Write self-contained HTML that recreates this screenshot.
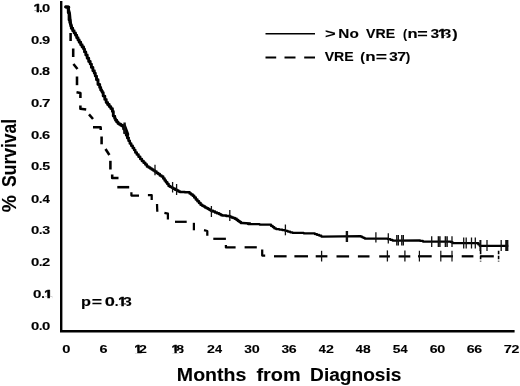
<!DOCTYPE html>
<html><head><meta charset="utf-8"><title>Survival</title>
<style>
html,body{margin:0;padding:0;background:#fff;}
svg{display:block;filter:blur(0.4px);}
text{font-family:"Liberation Sans",sans-serif;font-weight:bold;fill:#000;stroke:#000;stroke-width:0.12px;stroke-linejoin:round;}
</style></head><body>
<svg width="520" height="386" viewBox="0 0 520 386">
<rect x="0" y="0" width="520" height="386" fill="#fff"/>

<path d="M61.2,1 V331.2 H514.6" fill="none" stroke="#000" stroke-width="2.4" stroke-linejoin="miter"/>
<polyline points="65.6,6.9 68.3,6.9 68.3,12.8 69.1,12.8 69.1,20.0 70.0,20.0 70.0,22.5 70.5,22.5 70.5,24.3 70.9,24.3 70.9,26.0 71.3,26.0 71.3,28.3 72.7,28.3 72.7,30.7 74.1,30.7 74.1,33.0 75.5,33.0 75.5,35.3 76.7,35.3 76.7,37.7 78.0,37.7 78.0,40.0 79.2,40.0 79.2,42.3 80.7,42.3 80.7,44.7 82.1,44.7 82.1,47.0 83.6,47.0 83.6,49.1 84.5,49.1 84.5,51.9 85.8,51.9 85.8,55.0 87.2,55.0 87.2,58.3 88.7,58.3 88.7,61.5 90.2,61.5 90.2,64.1 91.4,64.1 91.4,67.4 92.9,67.4 92.9,70.8 94.3,70.8 94.3,73.2 95.3,73.2 95.3,76.1 96.5,76.1 96.5,79.8 98.0,79.8 98.0,84.5 99.7,84.5 99.7,87.5 100.7,87.5 100.7,90.0 101.6,90.0 101.6,91.2 102.3,91.2 102.3,92.6 103.2,92.6 103.2,96.1 104.8,96.1 104.8,99.4 106.2,99.4 106.2,102.5 107.6,102.5 107.6,104.5 109.2,104.5 109.2,106.6 110.8,106.6 110.8,108.6 112.4,108.6 112.4,111.5 113.3,111.5 113.3,116.1 114.7,116.1 114.7,118.6 115.5,118.6 115.5,120.2 116.7,120.2 116.7,121.9 118.0,121.9 118.0,123.5 119.2,123.5 119.2,124.3 120.7,124.3 120.7,125.2 122.1,125.2 122.1,126.0 123.6,126.0 123.6,129.1 124.9,129.1 124.9,132.7 126.3,132.7 126.3,135.3 127.4,135.3 127.4,138.0 128.5,138.0" fill="none" stroke="#000" stroke-width="2.9" stroke-linejoin="round" stroke-linecap="round"/>
<polyline points="128.5,138.0 128.5,140.8 129.8,140.8 129.8,143.5 131.2,143.5 131.2,145.8 132.7,145.8 132.7,148.1 134.1,148.1 134.1,150.1 135.3,150.1 135.3,152.4 136.8,152.4 136.8,154.6 138.5,154.6 138.5,156.7 140.2,156.7 140.2,158.9 141.9,158.9 141.9,161.0 143.6,161.0 143.6,162.8 145.3,162.8 145.3,164.6 146.9,164.6 146.9,166.4 148.6,166.4 148.6,167.4 150.2,167.4 150.2,168.4 151.7,168.4 151.7,169.4 153.3,169.4 153.3,170.4 154.8,170.4 154.8,171.6 156.5,171.6 156.5,172.9 158.2,172.9 158.2,174.1 159.8,174.1 159.8,175.4 161.5,175.4 161.5,176.6 163.2,176.6 163.2,178.5 164.6,178.5 164.6,180.4 165.9,180.4 165.9,182.2 167.3,182.2 167.3,184.1 168.6,184.1 168.6,186.0 170.0,186.0 170.0,186.7 171.2,186.7 171.2,187.3 172.3,187.3 172.3,188.0 173.5,188.0 173.5,188.8 175.1,188.8 175.1,189.7 176.8,189.7 176.8,190.5 178.4,190.5 178.4,191.4 180.0,191.4 180.0,191.9 184.8,191.9 184.8,192.3 189.6,192.3 189.6,193.5 191.1,193.5 191.1,194.6 192.7,194.6 192.7,195.8 194.2,195.8 194.2,197.6 195.8,197.6 195.8,199.4 197.4,199.4 197.4,201.2 199.0,201.2 199.0,203.0 200.6,203.0 200.6,204.8 202.2,204.8 202.2,205.7 203.7,205.7 203.7,206.5 205.1,206.5 205.1,207.4 206.6,207.4 206.6,208.3 208.1,208.3 208.1,209.1 209.5,209.1 209.5,210.0 211.0,210.0 211.0,210.8 213.0,210.8 213.0,211.6 215.0,211.6 215.0,212.4 217.0,212.4 217.0,213.2 219.0,213.2 219.0,213.9 220.2,213.9 220.2,214.5 221.3,214.5 221.3,215.2 222.5,215.2 222.5,215.6 226.2,215.6 226.2,216.0 229.8,216.0 229.8,216.7 231.5,216.7 231.5,217.4 233.2,217.4 233.2,218.1 234.9,218.1 234.9,218.8 236.6,218.8 236.6,219.9 238.1,219.9 238.1,220.9 239.5,220.9 239.5,222.0 240.9,222.0 240.9,223.1 242.4,223.1 250.0,223.5" fill="none" stroke="#000" stroke-width="2.5" stroke-linejoin="round" stroke-linecap="round"/>
<polyline points="248.0,223.4 248.0,224.0 259.5,224.0 259.5,224.6 271.0,224.6 271.0,225.9 272.7,225.9 272.7,227.1 274.3,227.1 274.3,228.4 276.0,228.4 276.0,229.0 279.1,229.0 279.1,229.6 282.3,229.6 282.3,230.2 285.4,230.2 285.4,230.9 287.7,230.9 287.7,231.6 290.1,231.6 290.1,232.3 292.4,232.3 292.4,232.8 303.6,232.8 303.6,233.3 314.8,233.3 314.8,234.1 317.0,234.1 317.0,234.9 319.2,234.9 319.2,235.7 321.3,235.7 321.3,236.5 323.5,236.5 360.8,236.2 360.8,236.7 362.1,236.7 362.1,237.3 363.4,237.3 363.4,237.8 364.7,237.8 364.7,238.5 388.0,238.5 388.0,239.2 390.3,239.2 390.3,239.8 392.5,239.8 392.5,240.5 394.8,240.5 420.0,240.3 420.0,240.9 422.9,240.9 422.9,241.5 425.8,241.5 451.0,241.5 451.0,242.2 452.5,242.2 452.5,243.0 454.0,243.0 478.3,243.0 478.3,244.4 479.8,244.4 479.8,245.9 481.2,245.9 508.3,245.9" fill="none" stroke="#000" stroke-width="2.25" stroke-linejoin="round" stroke-linecap="butt"/>
<line x1="124.2" y1="126" x2="127.4" y2="134.5" stroke="#000" stroke-width="3.8" stroke-linecap="round"/>
<line x1="66" y1="7.1" x2="68.8" y2="7.3" stroke="#000" stroke-width="3.0" stroke-linecap="round"/>
<polyline points="68,7.5 69.5,14 70.3,23 71.8,28" fill="none" stroke="#000" stroke-width="3.1" stroke-linecap="round" stroke-linejoin="round"/>
<line x1="124.6" y1="122.5" x2="124.6" y2="134" stroke="#111" stroke-width="2.4"/>
<line x1="155" y1="164.7" x2="155" y2="175.3" stroke="#111" stroke-width="1.3"/>
<line x1="172.6" y1="182" x2="172.6" y2="192.5" stroke="#111" stroke-width="1.3"/>
<line x1="176.6" y1="184" x2="176.6" y2="195" stroke="#111" stroke-width="1.3"/>
<line x1="211.4" y1="206" x2="211.4" y2="217" stroke="#111" stroke-width="1.3"/>
<line x1="229.8" y1="210" x2="229.8" y2="221" stroke="#111" stroke-width="1.3"/>
<line x1="285.4" y1="224.5" x2="285.4" y2="235.3" stroke="#111" stroke-width="1.3"/>
<line x1="346.9" y1="231" x2="346.9" y2="242" stroke="#111" stroke-width="2.4"/>
<line x1="375.9" y1="232.3" x2="375.9" y2="242.6" stroke="#111" stroke-width="1.3"/>
<line x1="388.3" y1="233.3" x2="388.3" y2="243.4" stroke="#111" stroke-width="1.3"/>
<line x1="396.8" y1="235" x2="396.8" y2="245.4" stroke="#111" stroke-width="1.4"/>
<line x1="398.3" y1="235" x2="398.3" y2="245.4" stroke="#111" stroke-width="1.4"/>
<line x1="401.8" y1="235" x2="401.8" y2="245.4" stroke="#111" stroke-width="1.4"/>
<line x1="403.3" y1="235" x2="403.3" y2="245.4" stroke="#111" stroke-width="1.4"/>
<line x1="431.7" y1="236.2" x2="431.7" y2="247" stroke="#111" stroke-width="1.3"/>
<line x1="438.4" y1="236.2" x2="438.4" y2="247" stroke="#111" stroke-width="1.5"/>
<line x1="439.9" y1="236.2" x2="439.9" y2="247" stroke="#111" stroke-width="1.5"/>
<line x1="445.4" y1="236.2" x2="445.4" y2="247" stroke="#111" stroke-width="1.5"/>
<line x1="447.1" y1="236.2" x2="447.1" y2="247" stroke="#111" stroke-width="1.5"/>
<line x1="452" y1="236.2" x2="452" y2="247" stroke="#111" stroke-width="1.3"/>
<line x1="463.7" y1="237.5" x2="463.7" y2="248.5" stroke="#111" stroke-width="1.3"/>
<line x1="466.2" y1="237.5" x2="466.2" y2="248.5" stroke="#111" stroke-width="1.3"/>
<line x1="471.5" y1="237.5" x2="471.5" y2="248.5" stroke="#111" stroke-width="1.3"/>
<line x1="475.3" y1="237.5" x2="475.3" y2="248.5" stroke="#111" stroke-width="1.3"/>
<line x1="480.4" y1="240" x2="480.4" y2="251" stroke="#111" stroke-width="2.0"/>
<line x1="487" y1="240" x2="487" y2="251" stroke="#111" stroke-width="1.3"/>
<line x1="501.2" y1="240" x2="501.2" y2="251" stroke="#111" stroke-width="1.3"/>
<line x1="506.8" y1="240" x2="506.8" y2="251" stroke="#111" stroke-width="3.2"/>
<polyline points="70.6,33.0 70.6,41.0" fill="none" stroke="#000" stroke-width="2.55" stroke-linejoin="round"/>
<polyline points="73.2,48.5 73.2,57.0" fill="none" stroke="#000" stroke-width="2.55" stroke-linejoin="round"/>
<polyline points="73.4,64.0 77.5,69.0" fill="none" stroke="#000" stroke-width="2.55" stroke-linejoin="round"/>
<polyline points="77.0,76.5 77.0,85.2" fill="none" stroke="#000" stroke-width="2.55" stroke-linejoin="round"/>
<polyline points="76.5,92.3 80.4,93.0 80.4,98.0" fill="none" stroke="#000" stroke-width="2.55" stroke-linejoin="round"/>
<polyline points="80.4,105.6 80.4,108.8 86.2,109.5" fill="none" stroke="#000" stroke-width="2.55" stroke-linejoin="round"/>
<polyline points="89.0,114.4 93.0,119.0" fill="none" stroke="#000" stroke-width="2.55" stroke-linejoin="round"/>
<polyline points="93.0,127.2 100.6,127.2 100.8,130.0" fill="none" stroke="#000" stroke-width="2.55" stroke-linejoin="round"/>
<polyline points="101.6,136.5 101.6,144.3" fill="none" stroke="#000" stroke-width="2.55" stroke-linejoin="round"/>
<polyline points="105.5,149.0 109.4,155.0" fill="none" stroke="#000" stroke-width="2.55" stroke-linejoin="round"/>
<polyline points="110.4,160.8 110.4,169.5" fill="none" stroke="#000" stroke-width="2.55" stroke-linejoin="round"/>
<polyline points="112.2,174.6 112.2,178.0 118.5,178.0" fill="none" stroke="#000" stroke-width="2.55" stroke-linejoin="round"/>
<polyline points="117.3,187.2 129.2,187.2" fill="none" stroke="#000" stroke-width="2.55" stroke-linejoin="round"/>
<polyline points="131.4,192.3 131.4,195.6 139.0,195.6" fill="none" stroke="#000" stroke-width="2.25" stroke-linejoin="round"/>
<polyline points="147.9,195.2 151.7,195.2 151.7,200.0" fill="none" stroke="#000" stroke-width="2.25" stroke-linejoin="round"/>
<polyline points="157.0,204.0 157.3,211.7" fill="none" stroke="#000" stroke-width="2.25" stroke-linejoin="round"/>
<polyline points="164.4,212.9 167.9,213.7 167.9,219.5" fill="none" stroke="#000" stroke-width="2.25" stroke-linejoin="round"/>
<polyline points="175.0,221.8 186.7,221.8" fill="none" stroke="#000" stroke-width="2.25" stroke-linejoin="round"/>
<polyline points="193.9,222.8 193.9,230.3" fill="none" stroke="#000" stroke-width="2.25" stroke-linejoin="round"/>
<polyline points="204.0,230.2 207.3,231.0 207.3,235.8" fill="none" stroke="#000" stroke-width="2.25" stroke-linejoin="round"/>
<polyline points="213.3,238.8 225.9,238.8" fill="none" stroke="#000" stroke-width="2.25" stroke-linejoin="round"/>
<polyline points="225.9,245.0 225.9,247.4 235.6,247.4" fill="none" stroke="#000" stroke-width="2.25" stroke-linejoin="round"/>
<polyline points="244.6,247.3 256.8,247.3" fill="none" stroke="#000" stroke-width="2.25" stroke-linejoin="round"/>
<polyline points="262.2,249.5 262.2,255.6 265.2,255.6" fill="none" stroke="#000" stroke-width="2.25" stroke-linejoin="round"/>
<polyline points="274.0,256.3 286.6,256.3" fill="none" stroke="#000" stroke-width="2.25" stroke-linejoin="round"/>
<polyline points="294.4,256.3 308.0,256.3" fill="none" stroke="#000" stroke-width="2.25" stroke-linejoin="round"/>
<polyline points="315.7,256.3 327.4,256.3" fill="none" stroke="#000" stroke-width="2.25" stroke-linejoin="round"/>
<polyline points="336.5,256.4 349.1,256.4" fill="none" stroke="#000" stroke-width="2.25" stroke-linejoin="round"/>
<polyline points="357.9,256.4 369.5,256.4" fill="none" stroke="#000" stroke-width="2.25" stroke-linejoin="round"/>
<polyline points="379.2,256.4 389.9,256.4" fill="none" stroke="#000" stroke-width="2.25" stroke-linejoin="round"/>
<polyline points="398.6,256.4 410.3,256.4" fill="none" stroke="#000" stroke-width="2.25" stroke-linejoin="round"/>
<polyline points="418.0,256.3 431.7,256.3" fill="none" stroke="#000" stroke-width="2.25" stroke-linejoin="round"/>
<polyline points="440.4,256.3 453.0,256.3" fill="none" stroke="#000" stroke-width="2.25" stroke-linejoin="round"/>
<polyline points="461.7,256.3 473.4,256.3" fill="none" stroke="#000" stroke-width="2.25" stroke-linejoin="round"/>
<polyline points="480.2,256.3 493.8,256.3" fill="none" stroke="#000" stroke-width="2.25" stroke-linejoin="round"/>
<line x1="321.6" y1="250.8" x2="321.6" y2="261.5" stroke="#111" stroke-width="1.3"/>
<line x1="387.4" y1="250.4" x2="387.4" y2="261.5" stroke="#111" stroke-width="1.3"/>
<line x1="404.9" y1="250.4" x2="404.9" y2="261.5" stroke="#111" stroke-width="1.3"/>
<line x1="440.8" y1="250.8" x2="440.8" y2="261.5" stroke="#111" stroke-width="1.2"/>
<line x1="452" y1="250.8" x2="452" y2="261.5" stroke="#111" stroke-width="1.2"/>
<line x1="419.4" y1="250.8" x2="419.4" y2="261.5" stroke="#111" stroke-width="1.2"/>
<line x1="480.6" y1="250.8" x2="480.6" y2="261.5" stroke="#000" stroke-width="1.6" stroke-dasharray="3.4,1.6"/>
<line x1="498.6" y1="250.8" x2="498.6" y2="261.5" stroke="#000" stroke-width="1.6" stroke-dasharray="3.4,1.6"/>
<line x1="265.5" y1="33.7" x2="315" y2="33.7" stroke="#000" stroke-width="1.6"/>
<line x1="265.5" y1="57.5" x2="276.2" y2="57.5" stroke="#000" stroke-width="2"/>
<line x1="284.5" y1="57.5" x2="295.5" y2="57.5" stroke="#000" stroke-width="2"/>
<line x1="304.2" y1="57.5" x2="315" y2="57.5" stroke="#000" stroke-width="2"/>
<clipPath id="ck1"><path clip-rule="evenodd" d="M-10,-10H600V500H-10ZM33.73,10.41H36.69V13.15H33.73ZM39.00,10.41H40.05V13.15H39.00Z"/></clipPath><text y="12.15" font-size="11.2" clip-path="url(#ck1)"><tspan x="33.65" textLength="7.73" lengthAdjust="spacingAndGlyphs" style="stroke-width:0.55px">1</tspan><tspan x="39.43" textLength="3.15" lengthAdjust="spacingAndGlyphs">.</tspan><tspan x="42.12" textLength="8.19" lengthAdjust="spacingAndGlyphs">0</tspan></text>
<text y="43.95" font-size="11.2"><tspan x="31.11" textLength="8.30" lengthAdjust="spacingAndGlyphs">0</tspan><tspan x="39.08" textLength="3.35" lengthAdjust="spacingAndGlyphs">.</tspan><tspan x="42.09" textLength="8.15" lengthAdjust="spacingAndGlyphs">9</tspan></text>
<text y="75.35" font-size="11.2"><tspan x="31.11" textLength="8.30" lengthAdjust="spacingAndGlyphs">0</tspan><tspan x="39.08" textLength="3.35" lengthAdjust="spacingAndGlyphs">.</tspan><tspan x="42.14" textLength="8.00" lengthAdjust="spacingAndGlyphs">8</tspan></text>
<text y="106.95" font-size="11.2"><tspan x="31.11" textLength="8.30" lengthAdjust="spacingAndGlyphs">0</tspan><tspan x="39.08" textLength="3.35" lengthAdjust="spacingAndGlyphs">.</tspan><tspan x="41.95" textLength="8.42" lengthAdjust="spacingAndGlyphs">7</tspan></text>
<text y="138.55" font-size="11.2"><tspan x="31.11" textLength="8.30" lengthAdjust="spacingAndGlyphs">0</tspan><tspan x="39.08" textLength="3.35" lengthAdjust="spacingAndGlyphs">.</tspan><tspan x="42.06" textLength="8.17" lengthAdjust="spacingAndGlyphs">6</tspan></text>
<text y="170.35" font-size="11.2"><tspan x="31.11" textLength="8.30" lengthAdjust="spacingAndGlyphs">0</tspan><tspan x="39.08" textLength="3.35" lengthAdjust="spacingAndGlyphs">.</tspan><tspan x="42.16" textLength="7.94" lengthAdjust="spacingAndGlyphs">5</tspan></text>
<text y="202.65" font-size="11.2"><tspan x="31.11" textLength="8.30" lengthAdjust="spacingAndGlyphs">0</tspan><tspan x="39.08" textLength="3.35" lengthAdjust="spacingAndGlyphs">.</tspan><tspan x="42.40" textLength="7.37" lengthAdjust="spacingAndGlyphs">4</tspan></text>
<text y="234.15" font-size="11.2"><tspan x="31.11" textLength="8.30" lengthAdjust="spacingAndGlyphs">0</tspan><tspan x="39.08" textLength="3.35" lengthAdjust="spacingAndGlyphs">.</tspan><tspan x="42.27" textLength="7.94" lengthAdjust="spacingAndGlyphs">3</tspan></text>
<text y="266.05" font-size="11.2"><tspan x="31.11" textLength="8.30" lengthAdjust="spacingAndGlyphs">0</tspan><tspan x="39.08" textLength="3.35" lengthAdjust="spacingAndGlyphs">.</tspan><tspan x="42.09" textLength="8.20" lengthAdjust="spacingAndGlyphs">2</tspan></text>
<clipPath id="ck2"><path clip-rule="evenodd" d="M-10,-10H600V500H-10ZM44.32,296.21H47.46V298.95H44.32ZM49.90,296.21H52.85V298.95H49.90Z"/></clipPath><text y="297.95" font-size="11.2" clip-path="url(#ck2)"><tspan x="33.10" textLength="8.42" lengthAdjust="spacingAndGlyphs">0</tspan><tspan x="41.33" textLength="3.54" lengthAdjust="spacingAndGlyphs">.</tspan><tspan x="44.18" textLength="8.28" lengthAdjust="spacingAndGlyphs" style="stroke-width:0.55px">1</tspan></text>
<text y="330.35" font-size="11.2"><tspan x="31.11" textLength="8.30" lengthAdjust="spacingAndGlyphs">0</tspan><tspan x="39.08" textLength="3.35" lengthAdjust="spacingAndGlyphs">.</tspan><tspan x="42.01" textLength="8.30" lengthAdjust="spacingAndGlyphs">0</tspan></text>
<text y="352.5" font-size="11.3"><tspan x="62.32" textLength="8.19" lengthAdjust="spacingAndGlyphs">0</tspan></text>
<text y="352.5" font-size="11.3"><tspan x="99.47" textLength="8.05" lengthAdjust="spacingAndGlyphs">6</tspan></text>
<clipPath id="ck3"><path clip-rule="evenodd" d="M-10,-10H600V500H-10ZM134.53,350.75H137.33V353.50H134.53Z"/></clipPath><text y="352.5" font-size="11.3" clip-path="url(#ck3)"><tspan x="134.52" textLength="7.17" lengthAdjust="spacingAndGlyphs" style="stroke-width:0.55px">1</tspan><tspan x="139.01" textLength="7.86" lengthAdjust="spacingAndGlyphs">2</tspan></text>
<clipPath id="ck4"><path clip-rule="evenodd" d="M-10,-10H600V500H-10ZM171.73,350.75H174.53V353.50H171.73ZM176.70,350.75H179.34V353.50H176.70Z"/></clipPath><text y="352.5" font-size="11.3" clip-path="url(#ck4)"><tspan x="171.72" textLength="7.17" lengthAdjust="spacingAndGlyphs" style="stroke-width:0.55px">1</tspan><tspan x="176.26" textLength="7.77" lengthAdjust="spacingAndGlyphs">8</tspan></text>
<text y="352.5" font-size="11.3"><tspan x="207.11" textLength="7.91" lengthAdjust="spacingAndGlyphs">2</tspan><tspan x="214.96" textLength="7.11" lengthAdjust="spacingAndGlyphs">4</tspan></text>
<text y="352.5" font-size="11.3"><tspan x="244.38" textLength="7.66" lengthAdjust="spacingAndGlyphs">3</tspan><tspan x="251.68" textLength="8.01" lengthAdjust="spacingAndGlyphs">0</tspan></text>
<text y="352.5" font-size="11.3"><tspan x="281.48" textLength="7.66" lengthAdjust="spacingAndGlyphs">3</tspan><tspan x="288.83" textLength="7.88" lengthAdjust="spacingAndGlyphs">6</tspan></text>
<text y="352.5" font-size="11.3"><tspan x="318.71" textLength="7.11" lengthAdjust="spacingAndGlyphs">4</tspan><tspan x="325.96" textLength="7.91" lengthAdjust="spacingAndGlyphs">2</tspan></text>
<text y="352.5" font-size="11.3"><tspan x="355.81" textLength="7.11" lengthAdjust="spacingAndGlyphs">4</tspan><tspan x="363.11" textLength="7.72" lengthAdjust="spacingAndGlyphs">8</tspan></text>
<text y="352.5" font-size="11.3"><tspan x="392.68" textLength="7.66" lengthAdjust="spacingAndGlyphs">5</tspan><tspan x="400.46" textLength="7.11" lengthAdjust="spacingAndGlyphs">4</tspan></text>
<text y="352.5" font-size="11.3"><tspan x="429.68" textLength="7.88" lengthAdjust="spacingAndGlyphs">6</tspan><tspan x="437.18" textLength="8.01" lengthAdjust="spacingAndGlyphs">0</tspan></text>
<text y="352.5" font-size="11.3"><tspan x="466.78" textLength="7.88" lengthAdjust="spacingAndGlyphs">6</tspan><tspan x="474.33" textLength="7.88" lengthAdjust="spacingAndGlyphs">6</tspan></text>
<text y="352.5" font-size="11.3"><tspan x="503.77" textLength="8.12" lengthAdjust="spacingAndGlyphs">7</tspan><tspan x="511.46" textLength="7.91" lengthAdjust="spacingAndGlyphs">2</tspan></text>
<g style="stroke-width:0.3px">
<text x="176.89" y="380.7" font-size="19.2" textLength="69.41" lengthAdjust="spacingAndGlyphs">Months</text>
<text x="256.46" y="380.7" font-size="19.2" textLength="44.17" lengthAdjust="spacingAndGlyphs">from</text>
<text x="310.12" y="380.7" font-size="19.2" textLength="91.26" lengthAdjust="spacingAndGlyphs">Diagnosis</text>
<g transform="translate(16.2,212) rotate(-90)">
<text x="-0.28" y="0" font-size="20.2" textLength="17.09" lengthAdjust="spacingAndGlyphs">%</text>
<text x="25.10" y="0" font-size="20.2" textLength="67.94" lengthAdjust="spacingAndGlyphs">Survival</text>
</g>
</g>
<clipPath id="ck5"><path clip-rule="evenodd" d="M-10,-10H600V500H-10ZM118.32,304.36H121.40V307.30H118.32ZM123.80,304.36H126.70V307.30H123.80Z"/></clipPath><text y="306.3" font-size="13.1" clip-path="url(#ck5)"><tspan x="80.93" textLength="9.94" lengthAdjust="spacingAndGlyphs">p</tspan><tspan x="91.86" textLength="10.36" lengthAdjust="spacingAndGlyphs">=</tspan> <tspan x="104.78" textLength="10.17" lengthAdjust="spacingAndGlyphs">0</tspan><tspan x="114.89" textLength="3.74" lengthAdjust="spacingAndGlyphs">.</tspan><tspan x="118.20" textLength="8.09" lengthAdjust="spacingAndGlyphs" style="stroke-width:0.55px">1</tspan><tspan x="122.94" textLength="8.84" lengthAdjust="spacingAndGlyphs">3</tspan></text>
<text y="38.0" font-size="13.3"><tspan x="325.03" textLength="10.71" lengthAdjust="spacingAndGlyphs">&gt;</tspan></text>
<text x="338.38" y="38" font-size="13.3" textLength="20.42" lengthAdjust="spacingAndGlyphs">No</text>
<text x="366.10" y="38" font-size="13.3" textLength="29.05" lengthAdjust="spacingAndGlyphs">VRE</text>
<clipPath id="ck6"><path clip-rule="evenodd" d="M-10,-10H600V500H-10ZM438.42,36.04H441.45V39.00H438.42ZM443.80,36.04H446.64V39.00H443.80Z"/></clipPath><text y="38.0" font-size="13.3" clip-path="url(#ck6)"><tspan x="402.88" textLength="4.13" lengthAdjust="spacingAndGlyphs">(</tspan><tspan x="407.41" textLength="10.12" lengthAdjust="spacingAndGlyphs">n</tspan><tspan x="417.26" textLength="10.48" lengthAdjust="spacingAndGlyphs">=</tspan> <tspan x="430.44" textLength="8.73" lengthAdjust="spacingAndGlyphs">3</tspan><tspan x="438.33" textLength="7.91" lengthAdjust="spacingAndGlyphs" style="stroke-width:0.55px">1</tspan><tspan x="442.64" textLength="8.73" lengthAdjust="spacingAndGlyphs">3</tspan><tspan x="452.38" textLength="5.43" lengthAdjust="spacingAndGlyphs">)</tspan></text>
<text x="324.70" y="60.9" font-size="13.3" textLength="28.95" lengthAdjust="spacingAndGlyphs">VRE</text>
<text y="60.9" font-size="13.3"><tspan x="360.29" textLength="4.72" lengthAdjust="spacingAndGlyphs">(</tspan><tspan x="365.28" textLength="10.37" lengthAdjust="spacingAndGlyphs">n</tspan><tspan x="375.70" textLength="11.30" lengthAdjust="spacingAndGlyphs">=</tspan> <tspan x="389.14" textLength="8.84" lengthAdjust="spacingAndGlyphs">3</tspan><tspan x="397.31" textLength="8.89" lengthAdjust="spacingAndGlyphs">7</tspan><tspan x="405.89" textLength="4.48" lengthAdjust="spacingAndGlyphs">)</tspan></text>
</svg></body></html>
